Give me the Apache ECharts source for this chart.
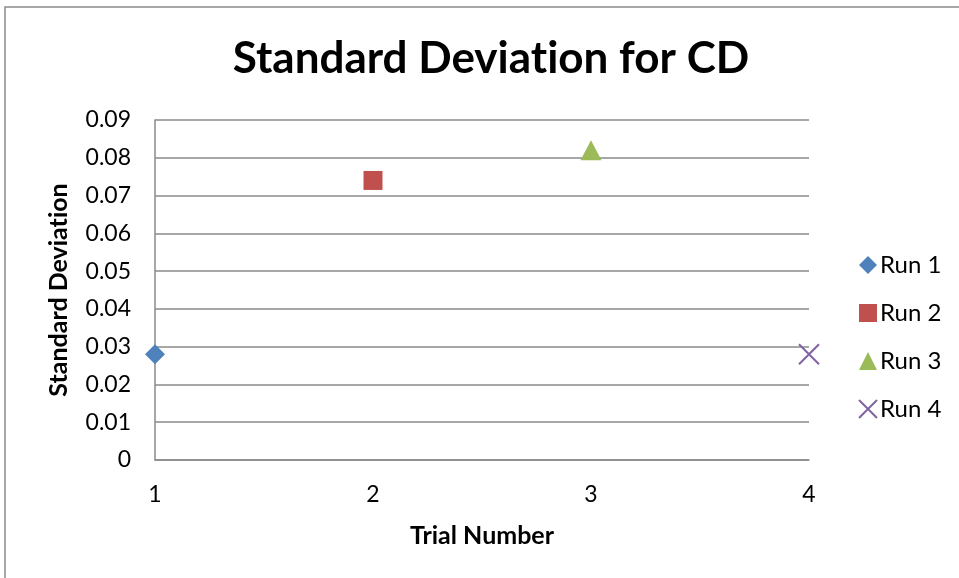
<!DOCTYPE html>
<html>
<head>
<meta charset="utf-8">
<script src="https://cdn.jsdelivr.net/npm/echarts@6/dist/echarts.min.js"></script>
<style>
  html, body { margin: 0; padding: 0; background: #fff; }
  #chart { width: 959px; height: 578px; }
</style>
</head>
<body>
<div id="chart"></div>
<script>
// Standard deviation measured for each run of the CD trials
const runNames = ['Run 1', 'Run 2', 'Run 3', 'Run 4'];
const trialNumbers = [1, 2, 3, 4];
const stdDevValues = [0.028, 0.074, 0.082, 0.028];
const yTicks = { min: 0, max: 0.09, step: 0.01 };
const xTicks = { min: 1, max: 4, step: 1 };

const markerColors = ['#4F81BD', '#C0504D', '#9BBB59', '#8064A2'];
const markerShapes = ['diamond', 'rect', 'triangle', 'path://M0,0L10,10M10,0L0,10'];
const markerSizes = [[20, 20], [19, 19], [21, 20], [20, 20]];

const FONT = 'Lato, "Open Sans", sans-serif';
// a zero-width non-joiner keeps Lato from fusing "ti" into a ligature
const noLig = s => s.replace(/ti/g, 't\u200Ci');

const series = runNames.map((name, i) => {
  const isCross = i === 3;
  return {
    name: name,
    type: 'scatter',
    clip: false,
    symbol: markerShapes[i],
    symbolSize: markerSizes[i],
    itemStyle: isCross
      ? { color: 'rgba(0,0,0,0)', borderColor: markerColors[i], borderWidth: 2, opacity: 1 }
      : { color: markerColors[i], opacity: 1 },
    emphasis: { disabled: true },
    data: [[trialNumbers[i], stdDevValues[i]]]
  };
});

const chart = echarts.init(document.getElementById('chart'), null, { renderer: 'canvas' });
chart.setOption({
  animation: false,
  backgroundColor: '#ffffff',
  textStyle: { fontFamily: FONT },
  graphic: [{
    type: 'rect',
    shape: { x: 5, y: 7, width: 2000, height: 2000 },
    style: { fill: 'none', stroke: '#8a8a8a', lineWidth: 1.5 },
    silent: true
  }],
  title: {
    text: noLig('Standard Deviation for CD'),
    left: 486,
    textAlign: 'center',
    top: 32,
    textStyle: { fontFamily: FONT, fontSize: 44, fontWeight: 'bold', color: '#000' }
  },
  legend: {
    orient: 'vertical',
    left: 853,
    top: 248,
    itemGap: 24,
    itemWidth: 18,
    itemHeight: 18,
    selectedMode: false,
    textStyle: { fontFamily: FONT, fontSize: 24, color: '#000', lineHeight: 23, padding: [0, 0, 0, -2] },
    data: runNames
  },
  grid: { left: 155, right: 150, top: 120, bottom: 118, containLabel: false },
  xAxis: {
    type: 'value',
    min: xTicks.min,
    max: xTicks.max,
    interval: xTicks.step,
    name: 'Trial Number',
    nameLocation: 'middle',
    nameGap: 63,
    nameTextStyle: { fontFamily: FONT, fontSize: 25, fontWeight: 'bold', color: '#000' },
    axisLine: { show: true, lineStyle: { color: '#8a8a8a', width: 1.5 } },
    axisTick: { show: false },
    splitLine: { show: false },
    axisLabel: { fontFamily: FONT, fontSize: 23, color: '#000', margin: 23 }
  },
  yAxis: {
    type: 'value',
    min: yTicks.min,
    max: yTicks.max,
    interval: yTicks.step,
    name: noLig('Standard Deviation'),
    nameLocation: 'middle',
    nameGap: 84,
    nameTextStyle: { fontFamily: FONT, fontSize: 25, fontWeight: 'bold', color: '#000' },
    axisLine: { show: true, lineStyle: { color: '#8a8a8a', width: 1.5 } },
    axisTick: { show: false },
    splitLine: { show: true, lineStyle: { color: '#8a8a8a', width: 1.5 } },
    axisLabel: {
      fontFamily: FONT, fontSize: 23, color: '#000', margin: 24,
      formatter: v => (Math.round(v * 100) / 100).toString()
    }
  },
  series: series
});
</script>
</body>
</html>
